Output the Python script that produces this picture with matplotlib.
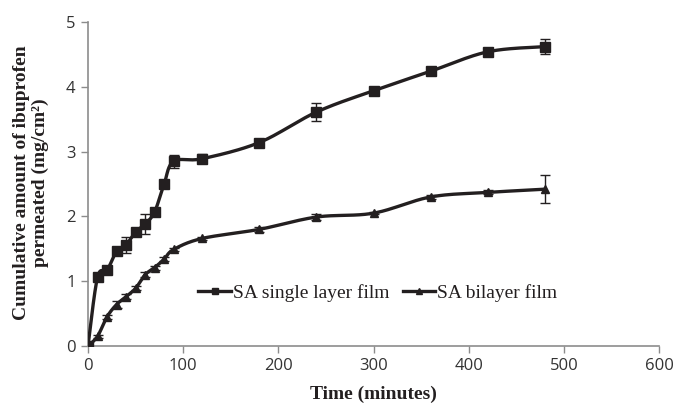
import numpy as np
import matplotlib
matplotlib.use("Agg")
import matplotlib.pyplot as plt
from matplotlib.lines import Line2D

time_min = [0, 10, 20, 30, 40, 50, 60, 70, 80, 90, 120, 180, 240, 300, 360, 420, 480]
single_layer = [0, 1.06, 1.17, 1.46, 1.56, 1.76, 1.88, 2.07, 2.50, 2.85, 2.89, 3.14, 3.61, 3.94, 4.24, 4.54, 4.62]
single_err = [0, 0.03, 0.05, 0.04, 0.12, 0.05, 0.15, 0.05, 0.04, 0.10, 0.07, 0.04, 0.14, 0.03, 0.06, 0.03, 0.11]
bilayer = [0, 0.15, 0.45, 0.64, 0.76, 0.89, 1.10, 1.21, 1.34, 1.49, 1.66, 1.80, 1.99, 2.05, 2.30, 2.37, 2.42]
bilayer_err = [0, 0.02, 0.03, 0.05, 0.04, 0.03, 0.04, 0.03, 0.03, 0.03, 0.02, 0.04, 0.05, 0.02, 0.03, 0.03, 0.22]
labels = ["SA single layer film", "SA bilayer film"]
x_ticks = [0, 100, 200, 300, 400, 500, 600]
y_ticks = [0, 1, 2, 3, 4, 5]

LINE = "#231f20"
AXC = "#8c8c8c"
TXT = "#333333"


def smooth(x, y, n=20):
    # Catmull-Rom style smoothing (like spreadsheet "smoothed line")
    x = np.asarray(x, float)
    y = np.asarray(y, float)
    P = np.column_stack([x, y])
    pts = []
    for i in range(len(P) - 1):
        p0 = P[i - 1] if i > 0 else P[i]
        p1 = P[i]
        p2 = P[i + 1]
        p3 = P[i + 2] if i + 2 < len(P) else P[i + 1]
        c1 = p1 + (p2 - p0) / 6.0
        c2 = p2 - (p3 - p1) / 6.0
        t = np.linspace(0, 1, n, endpoint=False)[:, None]
        seg = ((1 - t) ** 3) * p1 + 3 * ((1 - t) ** 2) * t * c1 + 3 * (1 - t) * t ** 2 * c2 + t ** 3 * p2
        pts.append(seg)
    pts.append(P[-1:])
    pts = np.vstack(pts)
    return pts[:, 0], pts[:, 1]


fig = plt.figure(figsize=(6.78, 4.05), dpi=100)
ax = fig.add_axes([88 / 678, 1 - 346 / 405, (659 - 88) / 678, (346 - 22) / 405])

for y, e, mk, ms in [(single_layer, single_err, "s", 6.5), (bilayer, bilayer_err, "^", 5.5)]:
    sx, sy = smooth(time_min, y)
    ax.plot(sx, sy, color=LINE, lw=2.4, solid_capstyle="round", zorder=3)
    ax.plot(time_min, y, linestyle="none", marker=mk, ms=ms, color=LINE, zorder=4)
    ax.errorbar(time_min, y, yerr=e, fmt="none", ecolor=LINE, elinewidth=1.0, capsize=3.5, capthick=1.0, zorder=5)

ax.set_xlim(0, 600)
ax.set_ylim(0, 5)
ax.set_xticks(x_ticks)
ax.set_yticks(y_ticks)
for s in ["top", "right"]:
    ax.spines[s].set_visible(False)
for s in ["left", "bottom"]:
    ax.spines[s].set_color(AXC)
    ax.spines[s].set_linewidth(1.2)
ax.tick_params(axis="both", direction="out", length=5, width=1, color=AXC,
               labelsize=12, labelcolor=TXT, pad=4)
for lab in ax.get_xticklabels() + ax.get_yticklabels():
    lab.set_fontfamily("Open Sans")

ax.set_xlabel("Time (minutes)", fontfamily="Liberation Serif", fontweight="bold",
              fontsize=14, color=LINE, labelpad=8)
fig.text(31 / 678, 1 - 183 / 405, "Cumulative amount of ibuprofen\npermeated (mg/cm\u00b2)",
         rotation=90, ha="center", va="center", fontfamily="Liberation Serif",
         fontweight="bold", fontsize=14, color=LINE, linespacing=1.12)

handles = [Line2D([], [], color=LINE, lw=2.4, marker="s", ms=5),
           Line2D([], [], color=LINE, lw=2.4, marker="^", ms=4.5)]
leg = fig.legend(handles, labels, loc="center", bbox_to_anchor=(378 / 678, 1 - 293 / 405),
                 ncol=2, frameon=False, handlelength=1.65, handletextpad=0.12,
                 columnspacing=0.7, prop={"family": "Liberation Serif", "size": 14})
for t in leg.get_texts():
    t.set_color(LINE)

fig.savefig("out.png", dpi=100)
